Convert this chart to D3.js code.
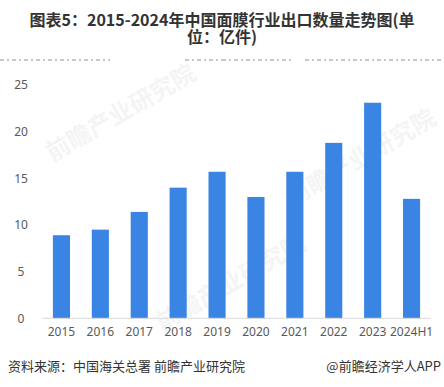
<!DOCTYPE html>
<html>
<head>
<meta charset="utf-8">
<script src="https://cdn.jsdelivr.net/npm/d3@7"></script>
<style>
  body{margin:0;background:#fff;}
  .canvas{position:relative;}
  svg{display:block;font-family:"Noto Sans CJK SC","Noto Sans",sans-serif;}
  .title{position:absolute;left:0;top:11px;width:444px;text-align:center;
         font-family:"Noto Sans CJK SC",sans-serif;font-size:16px;font-weight:bold;
         color:#333;line-height:17px;}
  .title div{height:17px;white-space:nowrap;}
  .axis path,.axis line{stroke:none;}
  .axis text{fill:#595959;font-size:12px;font-family:"Noto Sans","DejaVu Sans",sans-serif;}
</style>
</head>
<body>
<div class="canvas" id="canvas" style="width:444px;height:387px;"></div>
<script>
// data
var years = ['2015','2016','2017','2018','2019','2020','2021','2022','2023','2024H1'];
var exportQty = [8.9, 9.5, 11.4, 14.0, 15.7, 13.0, 15.7, 18.8, 23.1, 12.8];
var yTicks = [0, 5, 10, 15, 20, 25];
var titleLines = ['图表5：2015-2024年中国面膜行业出口数量走势图(单', '位：亿件)'];

var outerWidth = 444, outerHeight = 387;

var svg = d3.select('.canvas')
    .append('svg')
    .attr('width', outerWidth)
    .attr('height', outerHeight);

// faint watermarks
var marks = [[125,120],[365,165],[235,290]];
marks.forEach(function(p){
  svg.append('text')
    .attr('x', p[0]).attr('y', p[1])
    .attr('text-anchor','middle')
    .attr('transform','rotate(-30,'+p[0]+','+p[1]+')')
    .style('font-size','24px')
    .style('font-weight','bold')
    .style('fill','#000')
    .style('opacity',0.04)
    .text('前瞻产业研究院');
});

// title, two tight lines
d3.select('.canvas').append('div')
    .attr('class','title')
    .selectAll('div')
    .data(titleLines)
    .enter()
    .append('div')
    .text(function(d){return d;});

// cut-off line under the title
[[0,110],[185,222],[222,292],[305,444]].forEach(function(s){
  svg.append('line')
    .attr('x1',s[0]).attr('x2',s[1]).attr('y1',60).attr('y2',60)
    .attr('stroke','#666').attr('stroke-width',1.2)
    .attr('stroke-dasharray','4,3,2,3')
    .attr('opacity',0.7);
});

var scaleX = d3.scaleBand()
    .domain(years)
    .range([42,431])
    .paddingInner(0.56)
    .paddingOuter(0.28);
var scaleY = d3.scaleLinear()
    .domain([0,25])
    .range([318.3,85]);

// bars
svg.selectAll('.bar')
    .data(exportQty)
    .enter()
    .append('rect')
    .attr('class','bar')
    .attr('x',function(d,i){return scaleX(years[i]);})
    .attr('y',function(d){return scaleY(d);})
    .attr('width',scaleX.bandwidth())
    .attr('height',function(d){return scaleY(0)-scaleY(d);})
    .attr('fill','#3a84e4');

// baseline
svg.append('line')
    .attr('x1',42).attr('x2',431)
    .attr('y1',scaleY(0)).attr('y2',scaleY(0))
    .attr('stroke','#d9d9d9').attr('stroke-width',1);

// axes
var axisY = d3.axisLeft(scaleY).tickValues(yTicks).tickSize(0).tickPadding(0);
svg.append('g').attr('class','axis axis-y')
    .attr('transform','translate(27,0)')
    .call(axisY)
    .selectAll('text').attr('text-anchor','middle').attr('x',-6);

var axisX = d3.axisBottom(scaleX).tickSize(0).tickPadding(9);
svg.append('g').attr('class','axis axis-x')
    .attr('transform','translate(0,'+scaleY(0)+')')
    .call(axisX);

// footer
svg.append('text')
    .attr('x',8).attr('y',371)
    .style('font-size','13px').style('fill','#333')
    .text('资料来源：中国海关总署 前瞻产业研究院');
svg.append('text')
    .attr('x',441).attr('y',371)
    .attr('text-anchor','end')
    .style('font-size','13px').style('fill','#333')
    .text('@前瞻经济学人APP');
</script>
</body>
</html>
